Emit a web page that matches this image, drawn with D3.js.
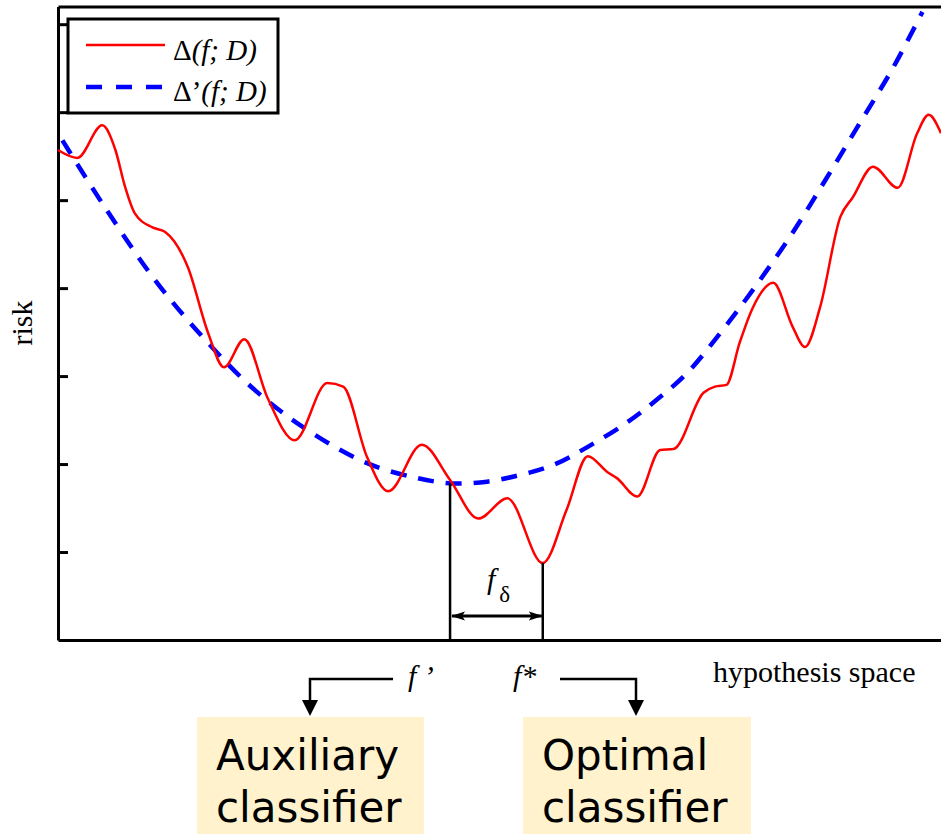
<!DOCTYPE html>
<html lang="en">
<head>
    <meta charset="UTF-8">
    <title>Risk over hypothesis space</title>
    <script src="https://d3js.org/d3.v7.min.js"></script>
    <style>
        body {
            margin: 0;
            background: #fff;
        }
        .serif {
            font-family: "Liberation Serif", "Times New Roman", serif;
            fill: #000;
        }
        .box-label {
            font-family: "DejaVu Sans", Verdana, sans-serif;
            font-size: 42px;
            fill: #000;
        }
    </style>
</head>
<body>
<svg id="chart" width="941" height="834"></svg>

<script>
    // hypothesis space position (arbitrary units) and risk values
    const riskX = [0, 0.22, 0.5, 0.65, 0.76, 0.87, 1.07, 1.21, 1.47, 1.7, 1.88, 2.11, 2.37, 2.68, 3.05, 3.23,
        3.5, 3.74, 4.12, 4.44, 4.76, 5.09, 5.49, 5.76, 6.0, 6.22, 6.33, 6.56, 6.82, 6.97, 7.31, 7.44,
        7.57, 7.72, 7.87, 8.1, 8.32, 8.46, 8.63, 8.86, 9.0, 9.23, 9.51, 9.73, 9.86, 10];
    const riskY = [5.57, 5.48, 5.85, 5.57, 5.15, 4.85, 4.69, 4.64, 4.24, 3.49, 3.1, 3.42, 2.76, 2.27, 2.92, 2.88,
        2.08, 1.69, 2.22, 1.82, 1.38, 1.61, 0.875, 1.48, 2.09, 1.91, 1.84, 1.63, 2.16, 2.17, 2.81, 2.88,
        2.9, 3.38, 3.78, 4.06, 3.56, 3.33, 3.78, 4.81, 5.03, 5.38, 5.14, 5.76, 5.97, 5.76];

    const surrogateX = [0.05, 0.53, 1.1, 1.67, 2.23, 2.82, 3.5, 4.07, 4.47, 4.86, 5.23, 5.61, 5.99, 6.44,
        6.78, 7.12, 7.5, 7.87, 8.32, 8.71, 9.08, 9.46, 9.79];
    const surrogateY = [5.68, 4.92, 4.09, 3.41, 2.84, 2.39, 2.01, 1.84, 1.78, 1.8, 1.875, 1.99, 2.19, 2.47,
        2.73, 3.03, 3.49, 3.98, 4.63, 5.26, 5.875, 6.51, 7.14];

    const yTicks = [1, 2, 3, 4, 5, 6, 7];

    // f' sits on the dashed curve, f* at the minimum of the solid one
    const fPrime = { x: 4.44, y: 1.78 };
    const fStar = { x: 5.49, y: 0.875 };

    const svg = d3.select("#chart");

    const x = d3.scaleLinear().domain([0, 10]).range([58, 941]);
    const y = d3.scaleLinear().domain([0, 7.2]).range([640, 6.6]);

    const defs = svg.append("defs");
    defs.append("marker")
        .attr("id", "head")
        .attr("viewBox", "0 -5 14 10")
        .attr("refX", 13)
        .attr("refY", 0)
        .attr("markerWidth", 14)
        .attr("markerHeight", 10)
        .attr("markerUnits", "userSpaceOnUse")
        .attr("orient", "auto-start-reverse")
        .append("path")
        .attr("d", "M0,-4.5L14,0L0,4.5L3,0Z")
        .attr("fill", "#000");

    // frame: left axis with inward ticks, bottom line and top line
    const yAxis = svg.append("g")
        .attr("transform", `translate(${x(0)},0)`)
        .call(d3.axisRight(y).tickValues(yTicks).tickSize(10).tickSizeOuter(0).tickFormat(""));
    yAxis.selectAll("path, line").attr("stroke", "#000").attr("stroke-width", 3);

    const xAxis = svg.append("g")
        .attr("transform", `translate(0,${y(0)})`)
        .call(d3.axisBottom(x).tickValues([]).tickSizeOuter(0));
    xAxis.select("path").attr("stroke", "#000").attr("stroke-width", 3);

    const topAxis = svg.append("g")
        .attr("transform", `translate(0,${y(7.2)})`)
        .call(d3.axisTop(x).tickValues([]).tickSizeOuter(0));
    topAxis.select("path").attr("stroke", "#000").attr("stroke-width", 3);

    // curves
    const riskLine = d3.line()
        .x((d, i) => x(riskX[i]))
        .y(d => y(d))
        .curve(d3.curveMonotoneX);

    const surrogateLine = d3.line()
        .x((d, i) => x(surrogateX[i]))
        .y(d => y(d))
        .curve(d3.curveCatmullRom.alpha(0.5));

    svg.append("path")
        .datum(surrogateY)
        .attr("d", surrogateLine)
        .attr("fill", "none")
        .attr("stroke", "#0000ff")
        .attr("stroke-width", 4.5)
        .attr("stroke-dasharray", "16,12");

    svg.append("path")
        .datum(riskY)
        .attr("d", riskLine)
        .attr("fill", "none")
        .attr("stroke", "#ff0000")
        .attr("stroke-width", 2.5);

    // f' and f* drop lines, f_delta arrow
    [fPrime, fStar].forEach(p => {
        svg.append("line")
            .attr("x1", x(p.x)).attr("x2", x(p.x))
            .attr("y1", y(p.y)).attr("y2", y(0))
            .attr("stroke", "#000")
            .attr("stroke-width", 2.5);
    });

    svg.append("line")
        .attr("x1", x(fPrime.x) + 2).attr("x2", x(fStar.x) - 1)
        .attr("y1", 616).attr("y2", 616)
        .attr("stroke", "#000")
        .attr("stroke-width", 3)
        .attr("marker-start", "url(#head)")
        .attr("marker-end", "url(#head)");

    const fd = svg.append("text")
        .attr("class", "serif")
        .attr("x", 487)
        .attr("y", 589)
        .style("font-size", "30px");
    fd.append("tspan").style("font-style", "italic").text("f");
    fd.append("tspan").attr("dx", 4).attr("dy", 13).style("font-size", "23px").text("δ");

    // axis titles
    svg.append("text")
        .attr("class", "serif")
        .attr("transform", "translate(32,323) rotate(-90)")
        .attr("text-anchor", "middle")
        .style("font-size", "30px")
        .text("risk");

    svg.append("text")
        .attr("class", "serif")
        .attr("x", 713)
        .attr("y", 682)
        .style("font-size", "30px")
        .text("hypothesis space");

    // legend
    const legend = svg.append("g");
    legend.append("rect")
        .attr("x", 68).attr("y", 19)
        .attr("width", 210).attr("height", 94)
        .attr("fill", "#fff")
        .attr("stroke", "#000")
        .attr("stroke-width", 3);

    const legendItems = [
        { label: "Δ", rest: "(f; D)", color: "#ff0000", dash: null, width: 2.5, ly: 45, ty: 60 },
        { label: "Δ’", rest: "(f; D)", color: "#0000ff", dash: "16,14", width: 4.5, ly: 87, ty: 101 }
    ];
    legendItems.forEach(d => {
        legend.append("line")
            .attr("x1", 86).attr("x2", 165)
            .attr("y1", d.ly).attr("y2", d.ly)
            .attr("stroke", d.color)
            .attr("stroke-width", d.width)
            .attr("stroke-dasharray", d.dash);
        const t = legend.append("text")
            .attr("class", "serif")
            .attr("x", 173)
            .attr("y", d.ty)
            .style("font-size", "29px");
        t.append("tspan").text(d.label);
        t.append("tspan").style("font-style", "italic").text(d.rest);
    });

    // annotations below the axis
    svg.append("text")
        .attr("class", "serif")
        .attr("x", 408)
        .attr("y", 686)
        .style("font-size", "30px")
        .style("font-style", "italic")
        .text("f ’");

    svg.append("text")
        .attr("class", "serif")
        .attr("x", 513)
        .attr("y", 686)
        .style("font-size", "30px")
        .style("font-style", "italic")
        .text("f*");

    const pointers = [
        { d: "M393,679H310V702" },
        { d: "M560,679H636V702" }
    ];
    pointers.forEach(p => {
        svg.append("path")
            .attr("d", p.d)
            .attr("fill", "none")
            .attr("stroke", "#000")
            .attr("stroke-width", 2.5);
    });
    [310, 636].forEach(cx => {
        svg.append("path")
            .attr("d", `M${cx - 8},700L${cx + 8},700L${cx},716Z`)
            .attr("fill", "#000");
    });

    const boxes = [
        { x: 197, w: 227, lines: ["Auxiliary", "classifier"], tx: 216 },
        { x: 523, w: 228, lines: ["Optimal", "classifier"], tx: 542 }
    ];
    boxes.forEach(b => {
        svg.append("rect")
            .attr("x", b.x).attr("y", 717)
            .attr("width", b.w).attr("height", 117)
            .attr("fill", "#fff2cc");
        b.lines.forEach((s, i) => {
            svg.append("text")
                .attr("class", "box-label")
                .attr("x", b.tx)
                .attr("y", 770 + i * 52)
                .text(s);
        });
    });
</script>
</body>
</html>
